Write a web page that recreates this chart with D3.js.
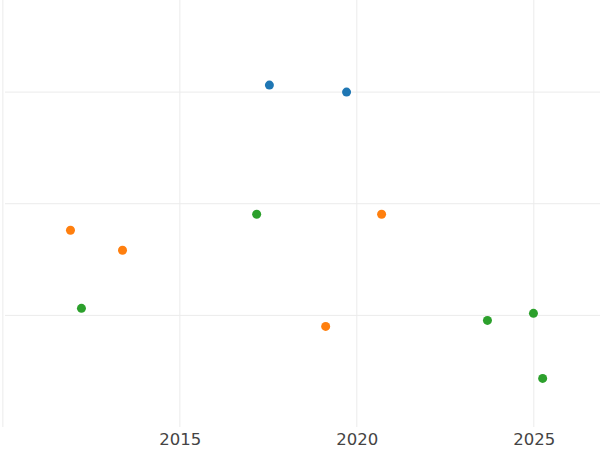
<!DOCTYPE html>
<html><head><meta charset="utf-8">
<script src="https://cdn.jsdelivr.net/npm/d3@7"></script>
<style>body{margin:0;background:#fff}</style></head>
<body><svg width="600" height="450"></svg>
<script>
const seriesNames = ["A","B","C"];
const colors = ["#1f77b4","#ff7f0e","#2ca02c"];
const xA = [2017.53, 2019.71];
const yA = [3.063, 3.0];
const xB = [2011.91, 2013.38, 2020.70, 2019.12];
const yB = [1.762, 1.583, 1.906, 0.901];
const xC = [2012.22, 2017.17, 2023.69, 2024.99, 2025.25];
const yC = [1.063, 1.906, 0.955, 1.018, 0.435];
const xTicks = [2015, 2020, 2025];
const yGrid = [1, 2, 3];

const svg = d3.select("svg");
const x = d3.scaleLinear().domain([2010.06, 2026.87]).range([5, 600]);
const y = d3.scaleLinear().domain([0, 3.825]).range([427, 0]);

svg.append("g").selectAll("line").data([2010, ...xTicks]).join("line")
  .attr("x1", d => x(d)).attr("x2", d => x(d)).attr("y1", 0).attr("y2", 427)
  .attr("stroke", "#ebebeb");
svg.append("g").selectAll("line").data(yGrid).join("line")
  .attr("x1", 5).attr("x2", 600).attr("y1", d => y(d)).attr("y2", d => y(d))
  .attr("stroke", "#ebebeb");

const ax = svg.append("g").attr("transform", "translate(0,427)")
  .call(d3.axisBottom(x).tickValues(xTicks).tickFormat(d3.format("d")).tickSize(0).tickPadding(6));
ax.select(".domain").remove();
ax.selectAll("text").attr("font-family", "DejaVu Sans").attr("font-size", 16.5).attr("fill", "#444");

[[xA,yA],[xB,yB],[xC,yC]].forEach(([xs,ys],i) => {
  svg.append("g").selectAll("circle").data(xs.map((d,j)=>[d,ys[j]])).join("circle")
    .attr("cx", d => x(d[0])).attr("cy", d => y(d[1])).attr("r", 4.5).attr("fill", colors[i]);
});
</script></body></html>
